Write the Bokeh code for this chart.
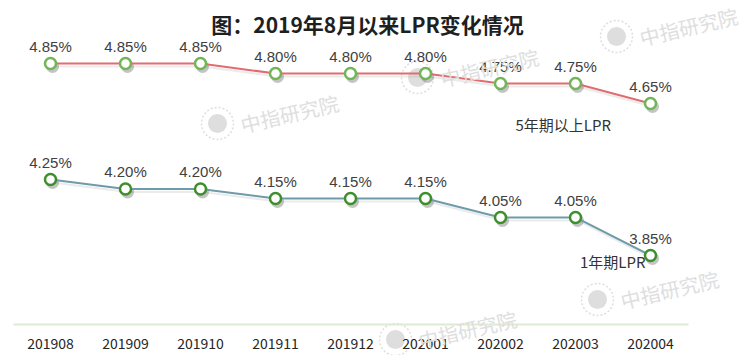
import numpy as np
from bokeh.plotting import figure
from bokeh.models import Range1d, Label
from bokeh.core.properties import value
from bokeh.embed import file_html
from bokeh.resources import INLINE

# ---- data ----
months = ["201908", "201909", "201910", "201911", "201912",
          "202001", "202002", "202003", "202004"]
lpr_5y = [4.85, 4.85, 4.85, 4.80, 4.80, 4.80, 4.75, 4.75, 4.65]
lpr_1y = [4.25, 4.20, 4.20, 4.15, 4.15, 4.15, 4.05, 4.05, 3.85]
title_text = "图：2019年8月以来LPR变化情况"
name_5y = "5年期以上LPR"
name_1y = "1年期LPR"
watermark_text = "中指研究院"

# ---- layout helpers (pixel -> data) ----
W, H = 740, 355
X0, DX = 50.0, 75.0
Y1_END, K1 = 5.192, 190.0     # 1Y series scale (primary)
Y2_END, K2 = 5.165, 200.0     # 5Y series scale (extra)


def xd(px):
    return (px - X0) / DX


def yd(py):
    return Y1_END - py / K1


x = np.arange(len(months), dtype=float)
y5 = np.array(lpr_5y)
y1 = np.array(lpr_1y)

p = figure(width=W, height=H, output_backend="svg", toolbar_location=None,
           x_range=Range1d(xd(0), xd(W)),
           y_range=Range1d(Y1_END - H / K1, Y1_END),
           x_axis_location=None, y_axis_location=None,
           min_border_left=0, min_border_right=0, min_border_top=0,
           min_border_bottom=0,
           outline_line_color=None, background_fill_color="white",
           border_fill_color="white")
p.extra_y_ranges = {"y5": Range1d(Y2_END - H / K2, Y2_END)}
p.grid.visible = False

# ---- watermarks ----
wm_logo_px = [(616, 36), (217, 123), (417, 77), (597, 299), (395, 339)]
wm_col = "#DEDEDE"
for (lx, ly) in wm_logo_px:
    p.scatter([xd(lx)], [yd(ly)], size=32, fill_color=None, line_color=wm_col,
              line_dash="2 2", line_width=1.5)
    p.scatter([xd(lx)], [yd(ly)], size=19, fill_color=wm_col, line_color=None)
    p.add_layout(Label(x=xd(lx + 72), y=yd(ly - 10), text=watermark_text,
                       angle=0.23, text_align="center", text_baseline="middle",
                       text_font="Noto Sans CJK SC",
                       text_font_size="20px", text_color=wm_col))

# ---- baseline (category axis) ----
p.segment(x0=[xd(13)], y0=[yd(324)], x1=[xd(688)], y1=[yd(324)],
          line_color="#DCEBD3", line_width=2)
p.text(x, [yd(343)] * len(months), text=months, text_align="center",
       text_baseline="middle", text_font=value("Noto Sans CJK SC"),
       text_font_size="14px", text_color="#262626")

# ---- shadows ----
sx, sy1, sy2 = 2 / DX, 3 / K1, 3 / K2
p.line(x + sx, y5 - sy2, y_range_name="y5", line_color="#999999",
       line_alpha=0.2, line_width=2)
p.line(x + sx, y1 - sy1, line_color="#999999", line_alpha=0.2, line_width=2)
p.scatter(x + sx, y5 - sy2, y_range_name="y5", size=13, fill_color="#555555",
          fill_alpha=0.35, line_color=None)
p.scatter(x + sx, y1 - sy1, size=13, fill_color="#555555",
          fill_alpha=0.35, line_color=None)

# ---- series ----
p.line(x, y5, y_range_name="y5", line_color="#E06C70", line_width=2)
p.scatter(x, y5, y_range_name="y5", size=11, fill_color="white",
          line_color="#72B556", line_width=2.5)
p.line(x, y1, line_color="#6E9BAA", line_width=2)
p.scatter(x, y1, size=11, fill_color="white",
          line_color="#3E8E2B", line_width=2.5)

lab_kw = dict(text_align="center", text_baseline="middle", y_offset=-17,
              text_font=value("Liberation Sans"), text_font_size="15px",
              text_color="#404040")
p.text(x, y5, text=[f"{v:.2f}%" for v in lpr_5y], y_range_name="y5", **lab_kw)
p.text(x, y1, text=[f"{v:.2f}%" for v in lpr_1y], **lab_kw)

# ---- series names ----
p.add_layout(Label(x=xd(515), y=yd(124), text=name_5y, text_align="left",
                   text_baseline="middle", text_font="Noto Sans CJK SC",
                   text_font_size="15px", text_color="#333333"))
p.add_layout(Label(x=xd(645), y=yd(261), text=name_1y, text_align="right",
                   text_baseline="middle", text_font="Noto Sans CJK SC",
                   text_font_size="15px", text_color="#333333"))

# ---- title ----
p.add_layout(Label(x=xd(367), y=yd(23), text=title_text, text_align="center",
                   text_baseline="middle", text_font="Noto Sans CJK SC",
                   text_font_style="bold", text_font_size="21px",
                   text_color="#1F1F1F"))

open("out.html", "w").write(file_html(p, INLINE))
